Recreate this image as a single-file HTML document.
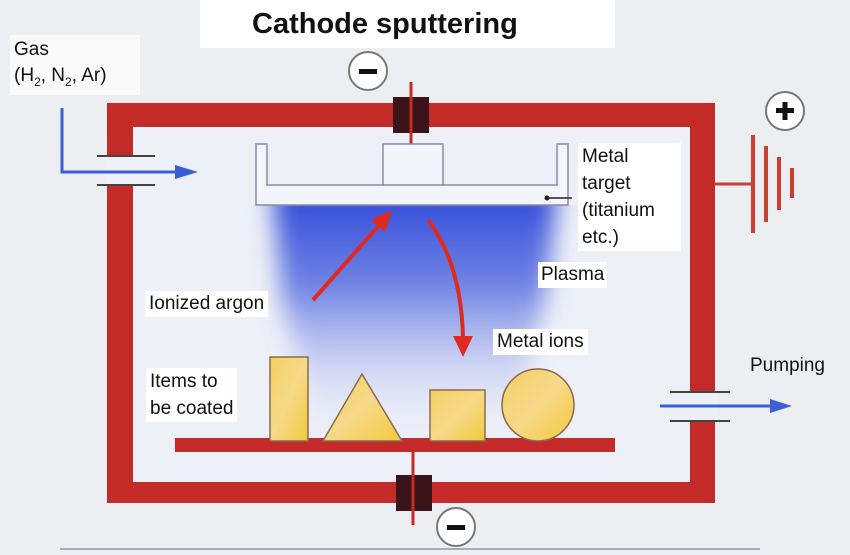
<!DOCTYPE html>
<html><head><style>
body{margin:0;width:850px;height:555px;overflow:hidden;background:#eceef2;font-family:"Liberation Sans",sans-serif}
.t{position:absolute;font-size:19px;color:#111;line-height:26px}
</style></head><body>
<svg width="850" height="555" style="position:absolute;left:0;top:0">
<defs>
<linearGradient id="pl" x1="0" y1="0" x2="0" y2="1">
<stop offset="0" stop-color="#2a44d8"/>
<stop offset="0.4" stop-color="#5a70e0" stop-opacity="0.85"/>
<stop offset="1" stop-color="#dfe4f6" stop-opacity="0"/>
</linearGradient>
<filter id="bl" x="-20%" y="-20%" width="140%" height="140%"><feGaussianBlur stdDeviation="12"/></filter>
<clipPath id="cp"><rect x="133" y="205" width="557" height="277"/></clipPath>
<linearGradient id="yl" x1="0" y1="0" x2="1" y2="1">
<stop offset="0" stop-color="#f3d060"/><stop offset="0.5" stop-color="#f7d98a"/><stop offset="1" stop-color="#f2c93a"/>
</linearGradient>
</defs>
<rect x="200" y="0" width="415" height="48" fill="#fff"/>
<rect x="10" y="35" width="130" height="60" fill="#fafafa"/>
<rect x="133" y="127" width="557" height="355" fill="#eef0f8"/>
<g clip-path="url(#cp)"><path d="M272 185H558L545 300L505 440H320L282 300Z" fill="url(#pl)" filter="url(#bl)"/></g>
<path d="M107 103H715V503H107Z M133 127V482H690V127Z" fill="#c42a28" fill-rule="evenodd"/>
<rect x="105" y="157" width="30" height="28" fill="#eef0f8"/>
<line x1="97" y1="156" x2="155" y2="156" stroke="#444" stroke-width="2"/>
<line x1="97" y1="185" x2="155" y2="185" stroke="#444" stroke-width="2"/>
<rect x="688" y="393" width="30" height="27" fill="#eef0f8"/>
<line x1="670" y1="392" x2="730" y2="392" stroke="#444" stroke-width="2"/>
<line x1="670" y1="421" x2="730" y2="421" stroke="#444" stroke-width="2"/>
<polyline points="62,108 62,172 180,172" fill="none" stroke="#3a5ed8" stroke-width="3"/>
<polygon points="175,165 198,172 175,179" fill="#3a5ed8"/>
<line x1="660" y1="406" x2="775" y2="406" stroke="#3a5ed8" stroke-width="3"/>
<polygon points="770,399 792,406 770,413" fill="#3a5ed8"/>
<line x1="411" y1="82" x2="411" y2="145" stroke="#c42a28" stroke-width="3"/>
<rect x="393" y="97" width="36" height="36" fill="#3a1418"/>
<line x1="411" y1="97" x2="411" y2="133" stroke="#c42a28" stroke-width="3"/>
<line x1="413" y1="452" x2="413" y2="525" stroke="#c42a28" stroke-width="3"/>
<rect x="396" y="475" width="36" height="36" fill="#3a1418"/>
<line x1="413" y1="475" x2="413" y2="511" stroke="#c42a28" stroke-width="3"/>
<circle cx="368" cy="71" r="19" fill="#fff" stroke="#777" stroke-width="2"/>
<rect x="359" y="69" width="18" height="5" fill="#111"/>
<circle cx="456" cy="527" r="19" fill="#fff" stroke="#777" stroke-width="2"/>
<rect x="447" y="525" width="18" height="5" fill="#111"/>
<path d="M256 144H267V185H383V144H443V185H557V144H568V205H256Z" fill="#f4f5fa" stroke="#8a8aa8" stroke-width="1.5"/>
<line x1="383" y1="185" x2="443" y2="185" stroke="#8a8aa8" stroke-width="1.5"/>
<line x1="547" y1="198" x2="572" y2="198" stroke="#222" stroke-width="1.5"/>
<circle cx="547" cy="198" r="2.5" fill="#222"/>
<line x1="715" y1="184" x2="753" y2="184" stroke="#c84030" stroke-width="3"/>
<line x1="753" y1="135" x2="753" y2="233" stroke="#c84030" stroke-width="4"/>
<line x1="766" y1="146" x2="766" y2="222" stroke="#c84030" stroke-width="4"/>
<line x1="779" y1="157" x2="779" y2="210" stroke="#c84030" stroke-width="4"/>
<line x1="792" y1="168" x2="792" y2="198" stroke="#c84030" stroke-width="4"/>
<circle cx="785" cy="111" r="19" fill="#fff" stroke="#777" stroke-width="2"/>
<rect x="776" y="108" width="18" height="5" fill="#111"/><rect x="782.5" y="102" width="5" height="18" fill="#111"/>
<line x1="313" y1="300" x2="382" y2="222" stroke="#e02a20" stroke-width="4"/>
<polygon points="371,220 392,210 385,232" fill="#e02a20"/>
<path d="M428 220 Q462 265 463 340" fill="none" stroke="#e02a20" stroke-width="4"/>
<polygon points="453,336 473,336 463,357" fill="#e02a20"/>
<rect x="175" y="438" width="440" height="14" fill="#c42a28"/>
<rect x="270" y="357" width="38" height="84" fill="url(#yl)" stroke="#8a6a50" stroke-width="1.5"/>
<polygon points="362,374 402,441 323,441" fill="url(#yl)" stroke="#8a6a50" stroke-width="1.5"/>
<rect x="430" y="390" width="55" height="51" fill="url(#yl)" stroke="#8a6a50" stroke-width="1.5"/>
<circle cx="538" cy="405" r="36" fill="url(#yl)" stroke="#8a6a50" stroke-width="1.5"/>
<line x1="60" y1="549" x2="760" y2="549" stroke="#b0aab8" stroke-width="2"/>
</svg>
<div class="t" style="left:252px;top:6px;font-size:29px;font-weight:bold;line-height:36px">Cathode sputtering</div>
<div class="t" style="left:14px;top:37px">Gas<br>(H<sub style="font-size:12px">2</sub>, N<sub style="font-size:12px">2</sub>, Ar)</div>
<div class="t" style="left:578px;top:143px;background:#fff;padding:0 4px;line-height:27px;width:95px">Metal<br>target<br>(titanium<br>etc.)</div>
<div class="t" style="left:538px;top:262px;background:#fff;padding:0 3px">Plasma</div>
<div class="t" style="left:145px;top:291px;background:#fff;padding:0 4px">Ionized argon</div>
<div class="t" style="left:493px;top:329px;background:#fff;padding:0 4px">Metal ions</div>
<div class="t" style="left:146px;top:368px;background:#fff;padding:0 4px;line-height:27px">Items to<br>be coated</div>
<div class="t" style="left:750px;top:353px">Pumping</div>
</body></html>
